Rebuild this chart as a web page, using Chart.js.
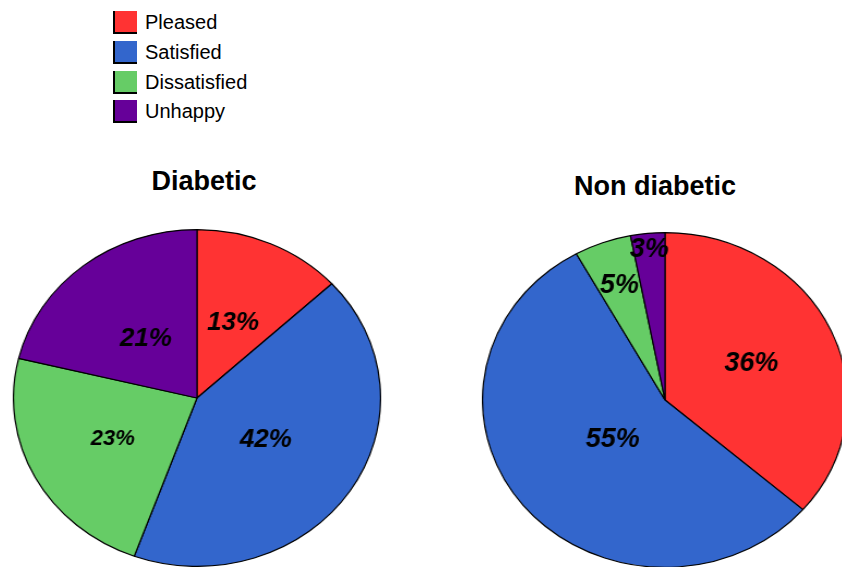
<!DOCTYPE html>
<html>
<head>
<meta charset="utf-8">
<script src="https://cdn.jsdelivr.net/npm/chart.js@4"></script>
<style>
  html, body { margin: 0; padding: 0; background: #fff; }
  body { width: 842px; height: 567px; position: relative; overflow: hidden;
         font-family: "Liberation Sans", Arial, sans-serif; }
  .titulo { position: absolute; font-weight: bold; font-size: 27px; color: #000;
            transform: translateX(-50%); white-space: nowrap; line-height: 1; }
  .pie { position: absolute; }
  #legenda { position: absolute; left: 113px; top: 8px; }
  .item { display: flex; align-items: center; height: 29.7px; font-size: 20px; }
  .caixa { width: 24px; height: 23px; border-left: 2px solid #000; border-bottom: 2px solid #000;
           margin-right: 8px; box-sizing: border-box; }
</style>
</head>
<body>
<div id="legenda"></div>
<div class="titulo" style="left:204px; top:168px;">Diabetic</div>
<div class="titulo" style="left:655px; top:173px;">Non diabetic</div>
<canvas id="pieDiabetic" class="pie"></canvas>
<canvas id="pieNonDiabetic" class="pie"></canvas>
<script>
// ============================================================
// DADOS
// ============================================================
const categorias = ['Pleased', 'Satisfied', 'Dissatisfied', 'Unhappy'];
const cores = ['#FF3333', '#3366CC', '#66CC66', '#660099'];
const diabetic = [13, 42, 23, 21];
const nonDiabetic = [36, 55, 5, 3];

// ============================================================
// LEGENDA (HTML)
// ============================================================
const legenda = document.getElementById('legenda');
categorias.forEach((nome, i) => {
  const item = document.createElement('div');
  item.className = 'item';
  item.innerHTML = `<span class="caixa" style="background:${cores[i]}"></span>${nome}`;
  legenda.appendChild(item);
});

// ============================================================
// PLUGIN DE RÓTULOS (percentuais dentro das fatias)
// ============================================================
const rotulosPizza = {
  id: 'rotulosPizza',
  afterDatasetsDraw(chart, args, opts) {
    const ctx = chart.ctx;
    const meta = chart.getDatasetMeta(0);
    const valores = chart.data.datasets[0].data;
    meta.data.forEach((arc, i) => {
      const p = arc.getProps(['x', 'y', 'startAngle', 'endAngle', 'outerRadius'], true);
      const meio = (p.startAngle + p.endAngle) / 2;
      const r = p.outerRadius * opts.raio[i];
      const x = p.x + Math.cos(meio) * r;
      const y = p.y + Math.sin(meio) * r;
      ctx.save();
      ctx.translate(x, y);
      ctx.scale(1 / opts.esticar, 1);
      ctx.font = `italic bold ${opts.tamanho[i]}px "Liberation Sans", Arial, sans-serif`;
      ctx.fillStyle = '#000';
      ctx.textAlign = 'center';
      ctx.textBaseline = 'middle';
      ctx.fillText(valores[i] + '%', 0, 0);
      ctx.restore();
    });
  }
};

// ============================================================
// CRIAR PIZZA
// ============================================================
function criarPizza(id, valores, caixa, rotulos) {
  const canvas = document.getElementById(id);
  canvas.width = caixa.size;
  canvas.height = caixa.size;
  canvas.style.left = caixa.left + 'px';
  canvas.style.top = caixa.top + 'px';
  canvas.style.width = caixa.size + 'px';
  canvas.style.height = caixa.size + 'px';
  canvas.style.transform = `scaleX(${caixa.esticar})`;

  new Chart(canvas, {
    type: 'pie',
    data: {
      labels: categorias,
      datasets: [{
        data: valores,
        backgroundColor: cores,
        borderColor: '#000',
        borderWidth: 1.2
      }]
    },
    options: {
      responsive: false,
      animation: false,
      layout: { padding: 0 },
      plugins: {
        legend: { display: false },
        tooltip: { enabled: false },
        rotulosPizza: { raio: rotulos.raio, tamanho: rotulos.tamanho, esticar: caixa.esticar }
      }
    },
    plugins: [rotulosPizza]
  });
}

criarPizza('pieDiabetic', diabetic,
  { left: 28, top: 229, size: 338, esticar: 1.09 },
  { raio: [0.49, 0.45, 0.52, 0.45], tamanho: [26, 26, 22, 26] });

criarPizza('pieNonDiabetic', nonDiabetic,
  { left: 497, top: 232, size: 336, esticar: 1.09 },
  { raio: [0.52, 0.37, 0.73, 0.9], tamanho: [27, 27, 27, 27] });
</script>
</body>
</html>
